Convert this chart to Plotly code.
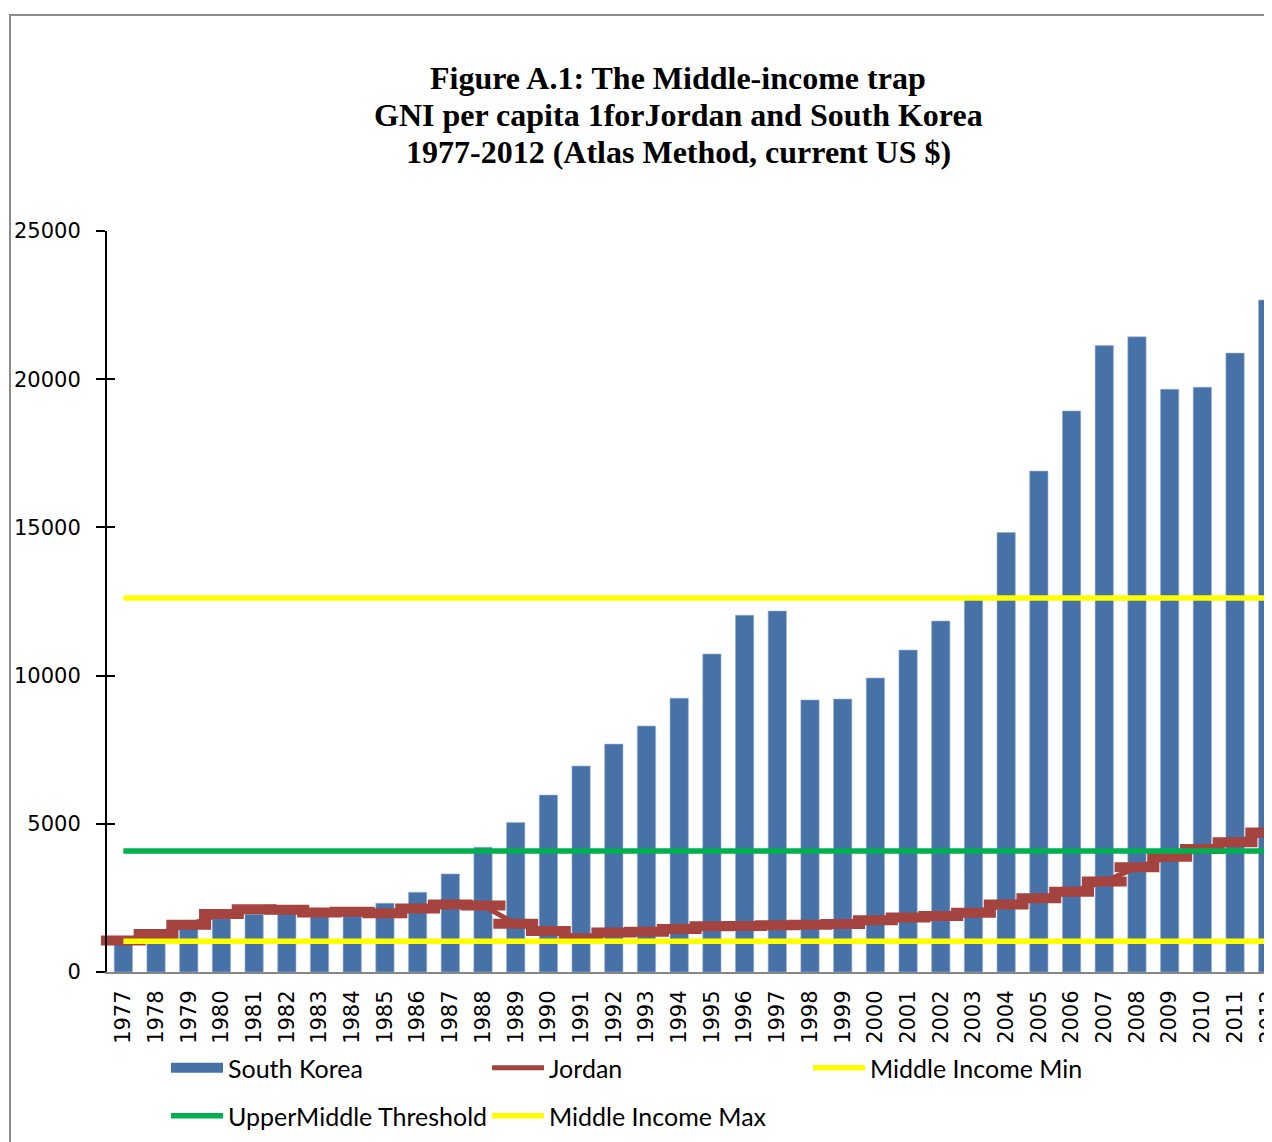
import plotly.graph_objs as go

# data
years = [str(y) for y in range(1977, 2013)]
south_korea = [1000, 1300, 1640, 1800, 1950, 1980, 2050, 2150, 2320, 2690, 3310, 4210,
               5040, 5970, 6950, 7690, 8300, 9240, 10730, 12040, 12180, 9180, 9210, 9920,
               10860, 11840, 12580, 14830, 16900, 18930, 21140, 21430, 19660, 19730, 20880, 22670]
jordan = [1060, 1280, 1590, 1960, 2120, 2100, 2010, 2030, 1980, 2140, 2280, 2240,
          1630, 1380, 1140, 1330, 1360, 1450, 1540, 1550, 1580, 1590, 1620, 1750,
          1840, 1890, 2000, 2280, 2490, 2710, 3050, 3530, 3890, 4150, 4380, 4710]
middle_min = 1036
upper_middle = 4085
middle_max = 12615
title_lines = ['Figure A.1: The Middle-income trap',
               'GNI per capita 1forJordan and South Korea',
               '1977-2012 (Atlas Method, current US $)']

# the page body adds an 8px offset, so the figure is built 8px smaller
OFF = 8
W, H = 1272 - OFF, 1142 - OFF
# plot area in page pixels: x 107..1272, y 231..972
L, R, T = 107 - OFF, 0, 231 - OFF
B = H - (972 - OFF)
pw, ph = W - L - R, H - T - B


def px_x(x):
    # page pixel -> paper x
    return (x - OFF - L) / pw


def px_y(y):
    # page pixel -> paper y
    return (H - B - (y - OFF)) / ph


RED = '#A5433F'
BLUE = '#4672A8'
fig = go.Figure()
fig.add_trace(go.Bar(x=years, y=south_korea, name='South Korea', marker_color=BLUE,
                     marker_line=dict(width=0.6, color='#9DB3D3'), showlegend=False))
# legend-only swatch for the bars (wide block like the original)
fig.add_trace(go.Scatter(x=[None], y=[None], name='South Korea', mode='lines', yaxis='y2',
                         line=dict(color=BLUE, width=13), legend='legend'))
fig.add_trace(go.Scatter(x=years, y=jordan, name='Jordan', mode='lines',
                         line=dict(color=RED, width=5), legend='legend', cliponaxis=False))
fig.add_trace(go.Scatter(x=years, y=jordan, mode='markers', showlegend=False, cliponaxis=False,
                         marker=dict(symbol='line-ew', size=32, line=dict(width=10, color=RED))))
fig.add_trace(go.Scatter(x=years, y=[middle_min] * len(years), name='Middle Income Min', mode='lines',
                         line=dict(color='#FFFF00', width=5.5), legend='legend'))
fig.add_trace(go.Scatter(x=years, y=[upper_middle] * len(years), name='UpperMiddle Threshold', mode='lines',
                         line=dict(color='#00B050', width=5.5), legend='legend2'))
fig.add_trace(go.Scatter(x=years, y=[middle_max] * len(years), name='Middle Income Max', mode='lines',
                         line=dict(color='#FFFF00', width=5.5), legend='legend2'))

leg_font = dict(family='Lato, Liberation Sans, sans-serif', size=25, color='black')
legend_common = dict(orientation='h', xref='container', yref='container', xanchor='left', yanchor='middle',
                     font=leg_font, itemwidth=52, entrywidth=254, entrywidthmode='pixels',
                     bgcolor='rgba(0,0,0,0)', traceorder='normal')

annotations = []
for line, ypx in zip(title_lines, [78, 115, 152]):
    annotations.append(dict(text=line, xref='paper', yref='paper', x=px_x(678), y=px_y(ypx),
                            xanchor='center', yanchor='middle', showarrow=False,
                            font=dict(family='Liberation Serif', size=32, color='black', weight='bold')))

fig.update_layout(
    template='none',
    width=W, height=H,
    margin=dict(l=L, r=R, t=T, b=B, autoexpand=False),
    paper_bgcolor='white', plot_bgcolor='white',
    bargap=0.44,
    showlegend=True,
    legend=dict(x=(166 - OFF) / W, y=1 - (1068 - OFF) / H, **legend_common),
    legend2=dict(x=(166 - OFF) / W, y=1 - (1116 - OFF) / H, **legend_common),
    xaxis=dict(type='category', range=[-0.5, 35.13], showline=True, linecolor='#868686', linewidth=2,
               ticks='', tickangle=-90, ticklabelstandoff=8, automargin=False,
               tickfont=dict(family='DejaVu Sans', size=21, color='black'), showgrid=False, zeroline=False),
    yaxis=dict(range=[0, 25000], dtick=5000, tickformat='d', showline=True, linecolor='black', linewidth=2,
               ticks='outside', ticklen=9, tickwidth=2, tickcolor='black', ticklabelstandoff=11,
               automargin=False,
               tickfont=dict(family='DejaVu Sans', size=21, color='black'), showgrid=False, zeroline=False),
    yaxis2=dict(range=[0, 25000], dtick=5000, overlaying='y', side='left', anchor='x',
                ticks='inside', ticklen=8, tickwidth=2, tickcolor='black', automargin=False,
                showticklabels=False, showline=False, showgrid=False, zeroline=False),
    annotations=annotations,
    shapes=[dict(type='rect', xref='paper', yref='paper', x0=px_x(10), x1=1.05, y0=-0.5, y1=px_y(15),
                 line=dict(color='#8C8C8C', width=2), layer='below')],
)

fig.write_html("out.html")
